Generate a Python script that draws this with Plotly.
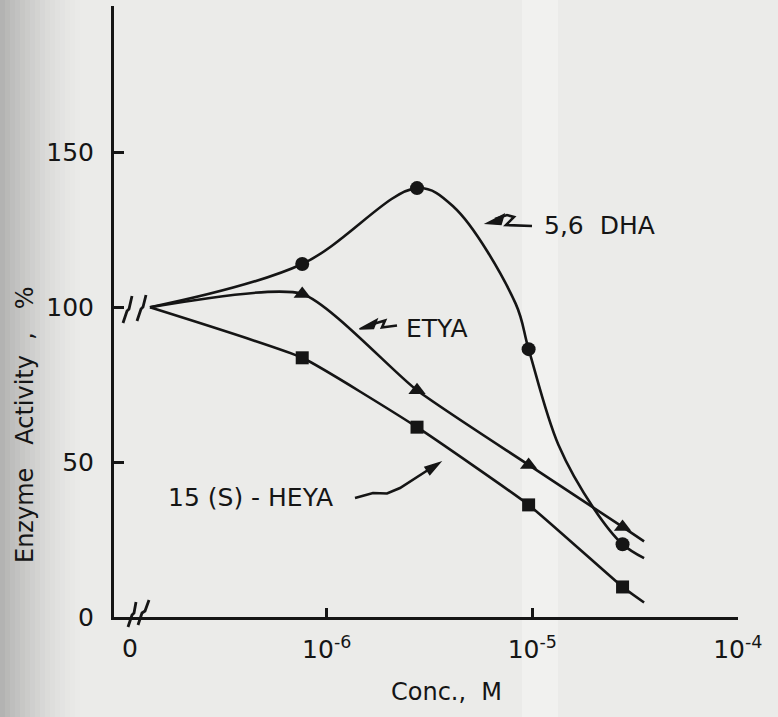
import plotly.graph_objects as go

# ---- data -------------------------------------------------------------
# Concentration (M) of each test compound; the control (no compound) is
# plotted just past the axis break at the left.
ZERO_POS = 1.38e-7
CONC = [7.6e-7, 2.75e-6, 9.6e-6, 2.75e-5]
END_CONC = 3.5e-5          # where the drawn curves stop
CONTROL = 100.0            # enzyme activity without compound, %

DHA = [114.0, 138.5, 86.5, 23.5]     # 5,6 DHA
ETYA = [104.3, 73.2, 49.1, 29.1]     # ETYA
HEYA = [83.7, 61.3, 36.2, 9.7]       # 15(S)-HEYA
DHA_END, ETYA_END, HEYA_END = 19.0, 24.4, 4.7

# extra points along the hand-drawn 5,6 DHA curve (peak and steep fall)
DHA_CURVE_CONC = [4.14e-6, 8.3e-6, 1.34e-5, 2.0e-5]
DHA_CURVE_VAL = [132.5, 101.2, 55.6, 34.9]

X_TICKS = [1e-6, 1e-5, 1e-4]
X_TICK_TEXT = ["10<sup>-6</sup>", "10<sup>-5</sup>", "10<sup>-4</sup>"]
Y_TICKS = [0, 50, 100, 150, 197]
Y_TICK_TEXT = ["0", "50", "100", "150", ""]

# ---- page geometry ------------------------------------------------------
W, H = 778, 717
ML, MR, MT, MB = 114, 40, 6, 100
INK = "#151515"
PAPER = "#ebebe9"
FONT = "DejaVu Sans"


def pp(x, y):
    """Figure pixel position -> paper coordinates."""
    return (x - ML) / (W - ML - MR), (H - MB - y) / (H - MT - MB)


def path(points, close=False):
    parts = []
    for i, (x, y) in enumerate(points):
        px, py = pp(x, y)
        parts.append(("M" if i == 0 else "L") + f" {px:.5f} {py:.5f}")
    return " ".join(parts) + (" Z" if close else "")


def curve(vals, end, extra_x=(), extra_y=()):
    pts = sorted(zip([ZERO_POS] + CONC + [END_CONC] + list(extra_x),
                     [CONTROL] + vals + [end] + list(extra_y)))
    return [p[0] for p in pts], [p[1] for p in pts]


fig = go.Figure()

series = [
    ("5,6 DHA", DHA, curve(DHA, DHA_END, DHA_CURVE_CONC, DHA_CURVE_VAL),
     "circle", 14, 1.0),
    ("ETYA", ETYA, curve(ETYA, ETYA_END), "triangle-up", 15, 0.6),
    ("15 (S) - HEYA", HEYA, curve(HEYA, HEYA_END), "square", 13, 0.4),
]
for name, vals, (cx, cy), symbol, size, smooth in series:
    fig.add_trace(go.Scatter(
        x=cx, y=cy, mode="lines", name=name,
        line=dict(color=INK, width=2.6, shape="spline", smoothing=smooth),
        hoverinfo="skip",
    ))
    fig.add_trace(go.Scatter(
        x=CONC, y=vals, mode="markers", name=name,
        marker=dict(symbol=symbol, size=size, color=INK, line=dict(width=0)),
    ))

shapes = []

# soft shading of the sheet
for i in range(16):
    x0 = i * 5
    shade = 0.38 * (1 - i / 16) ** 1.5
    a = pp(x0, 0)[0]
    b = pp(x0 + 5, 0)[0]
    shapes.append(dict(type="rect", xref="paper", yref="paper", x0=a, x1=b,
                       y0=-0.3, y1=1.1, fillcolor=f"rgba(90,90,90,{shade:.3f})",
                       line=dict(width=0), layer="below"))
bx0, _ = pp(522, 0)
bx1, _ = pp(558, 0)
shapes.append(dict(type="rect", xref="paper", yref="paper", x0=bx0, x1=bx1,
                   y0=-0.3, y1=1.1, fillcolor="rgba(255,255,255,0.3)",
                   line=dict(width=0), layer="below"))

# axis breaks
for seg in [[(123, 323), (127, 311), (129, 309), (132, 296)],
            [(137, 321), (141, 309), (143, 307), (146, 295)],
            [(128, 627), (132, 615), (134, 613), (136, 602)],
            [(138, 625), (142, 613), (145, 611), (149, 600)]]:
    shapes.append(dict(type="path", xref="paper", yref="paper", path=path(seg),
                       line=dict(color=INK, width=2.8)))

# squiggly pointers to the curves
pointers = [
    # 5,6 DHA
    ([(495, 219), (507, 215), (514, 217), (506, 225), (532, 226)],
     [(486.5, 223.5), (504, 214.5), (501, 224.5)]),
    # ETYA
    ([(368, 325.5), (385, 320.5), (382, 327.5), (397, 325.5)],
     [(359.5, 329), (377, 319.5), (373.5, 328.5)]),
    # 15(S)-HEYA
    ([(355, 498), (373, 493), (387, 493.5), (400, 488), (428, 470)],
     [(440, 462.5), (429.8, 474.5), (425, 467.2)]),
]
for line_pts, head in pointers:
    shapes.append(dict(type="path", xref="paper", yref="paper", path=path(line_pts),
                       line=dict(color=INK, width=2.6)))
    shapes.append(dict(type="path", xref="paper", yref="paper", path=path(head, True),
                       fillcolor=INK, line=dict(color=INK, width=1.5)))

annotations = []


def label(text, x, y, size, xanchor="left", angle=0):
    ax, ay = pp(x, y)
    annotations.append(dict(text=text, x=ax, y=ay, xref="paper", yref="paper",
                            xanchor=xanchor, yanchor="middle", showarrow=False,
                            textangle=angle,
                            font=dict(family=FONT, size=size, color=INK)))


label("5,6\u00a0\u00a0DHA", 542, 225, 25)
label("ETYA", 404, 328, 25)
label("15 (S) - HEYA", 166, 497, 25)
label("0", 130, 648, 25, xanchor="center")
label("Conc.,\u00a0\u00a0M", 446, 692, 24, xanchor="center")
label("Enzyme\u00a0\u00a0\u00a0Activity\u00a0\u00a0,\u00a0\u00a0\u00a0%", 25, 425, 24,
      xanchor="center", angle=-90)

fig.update_layout(
    width=W, height=H,
    margin=dict(l=ML, r=MR, t=MT, b=MB, pad=0),
    paper_bgcolor=PAPER, plot_bgcolor="rgba(0,0,0,0)",
    showlegend=False,
    font=dict(family=FONT, color=INK),
    shapes=shapes, annotations=annotations,
    xaxis=dict(type="log", range=[-7.035, -3.999],
               showline=True, linewidth=3, linecolor=INK,
               ticks="inside", ticklen=9, tickwidth=2.5, tickcolor=INK,
               tickvals=X_TICKS, ticktext=X_TICK_TEXT,
               tickfont=dict(family=FONT, size=25, color=INK),
               ticklabelstandoff=8,
               showgrid=False, zeroline=False),
    yaxis=dict(range=[0, 197.3],
               showline=True, linewidth=3, linecolor=INK,
               ticks="inside", ticklen=10, tickwidth=2.5, tickcolor=INK,
               tickvals=Y_TICKS, ticktext=Y_TICK_TEXT,
               tickfont=dict(family=FONT, size=25, color=INK),
               ticklabelstandoff=12,
               showgrid=False, zeroline=False),
)

fig.write_html("out.html")
